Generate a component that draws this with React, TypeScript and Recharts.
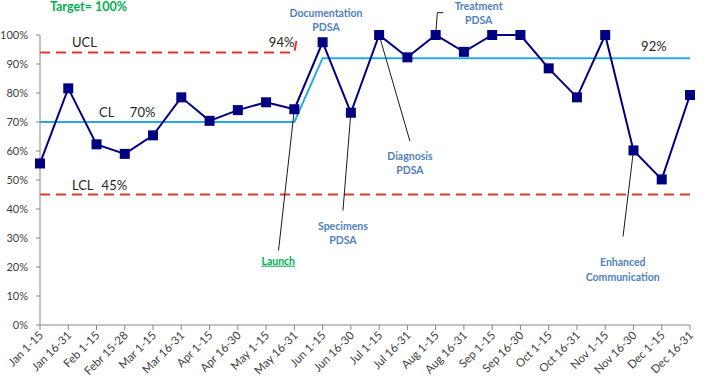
import React from "react";
import { LineChart, Line, XAxis, YAxis, ReferenceLine, ReferenceDot } from "recharts";

// Reporting periods (half-months)
const periods = [
  "Jan 1-15", "Jan 16-31", "Feb 1-15", "Febr 15-28", "Mar 1-15", "Mar 16-31",
  "Apr 1-15", "Apr 16-30", "May 1-15", "May 16-31", "Jun 1-15", "Jun 16-30",
  "Jul 1-15", "Jul 16-31", "Aug 1-15", "Aug 16-31", "Sep 1-15", "Sep 16-30",
  "Oct 1-15", "Oct 16-31", "Nov 1-15", "Nov 16-30", "Dec 1-15", "Dec 16-31",
];

// Compliance rate per period (%)
const compliance = [
  55.7, 81.6, 62.3, 59.0, 65.4, 78.5, 70.4, 74.1, 76.8, 74.4, 97.5, 73.2,
  100, 92.3, 100, 94.2, 100, 100, 88.5, 78.5, 100, 60.2, 50.2, 79.3,
];

// Control limits: baseline phase (first 10 periods), then post-launch phase
const baselineCL = 70;
const phase2CL = 92;
const baselineUCL = 94;
const phase2UCL = 150;
const lcl = 45;
const baselinePeriods = 10;

const yTicks = [0, 10, 20, 30, 40, 50, 60, 70, 80, 90, 100];

const data = periods.map((p, i) => ({
  idx: i,
  period: p,
  rate: compliance[i],
  cl: i < baselinePeriods ? baselineCL : phase2CL,
  ucl: i < baselinePeriods ? baselineUCL : i === baselinePeriods ? phase2UCL : null,
  lcl,
}));

const NAVY = "#000080";
const CL_BLUE = "#27A9E1";
const LIMIT_RED = "#E2392F";
const NOTE_BLUE = "#4F81BD";
const GREEN = "#00B050";
const AXIS_GRAY = "#868686";
const TEXT = "#262626";
const FONT = "Lato, 'Open Sans', sans-serif";

type Note = {
  x: number;
  y: number;
  lines: string[];
  color: string;
  size: number;
  weight: number;
  anchor: "start" | "middle" | "end";
  underline?: boolean;
};

// Text annotations placed in data coordinates (x = period index, y = %)
const notes: Note[] = [
  { x: 0.35, y: 108.2, lines: ["Target= 100%"], color: GREEN, size: 12.5, weight: 700, anchor: "start" },
  { x: 1.13, y: 95.9, lines: ["UCL"], color: TEXT, size: 13, weight: 400, anchor: "start" },
  { x: 9.0, y: 95.9, lines: [`${baselineUCL}%`], color: TEXT, size: 13, weight: 400, anchor: "end" },
  { x: 2.09, y: 71.7, lines: ["CL"], color: TEXT, size: 13, weight: 400, anchor: "start" },
  { x: 3.18, y: 71.7, lines: [`${baselineCL}%`], color: TEXT, size: 13, weight: 400, anchor: "start" },
  { x: 1.13, y: 46.7, lines: ["LCL"], color: TEXT, size: 13, weight: 400, anchor: "start" },
  { x: 2.18, y: 46.7, lines: [`${lcl}%`], color: TEXT, size: 13, weight: 400, anchor: "start" },
  { x: 21.27, y: 94.6, lines: [`${phase2CL}%`], color: TEXT, size: 13, weight: 400, anchor: "start" },
  { x: 10.12, y: 106.2, lines: ["Documentation", "PDSA"], color: NOTE_BLUE, size: 10.5, weight: 700, anchor: "middle" },
  { x: 15.52, y: 108.6, lines: ["Treatment", "PDSA"], color: NOTE_BLUE, size: 10.5, weight: 700, anchor: "middle" },
  { x: 13.09, y: 56.8, lines: ["Diagnosis", "PDSA"], color: NOTE_BLUE, size: 10.5, weight: 700, anchor: "middle" },
  { x: 10.72, y: 32.9, lines: ["Specimens", "PDSA"], color: NOTE_BLUE, size: 10.5, weight: 700, anchor: "middle" },
  { x: 8.43, y: 20.8, lines: ["Launch"], color: GREEN, size: 10.5, weight: 700, anchor: "middle", underline: true },
  { x: 20.62, y: 20.2, lines: ["Enhanced", "Communication"], color: NOTE_BLUE, size: 10.5, weight: 700, anchor: "middle" },
];

// Leader lines from intervention notes to the periods they refer to
const leaders: { from: { x: number; y: number }; to: { x: number; y: number } }[] = [
  { from: { x: 9, y: compliance[9] }, to: { x: 8.44, y: 25.7 } },
  { from: { x: 11, y: compliance[11] }, to: { x: 10.72, y: 39.5 } },
  { from: { x: 12, y: compliance[12] }, to: { x: 13.09, y: 63.4 } },
  { from: { x: 14, y: compliance[14] }, to: { x: 14.06, y: 107.7 } },
  { from: { x: 14.06, y: 107.7 }, to: { x: 14.27, y: 107.7 } },
  { from: { x: 21, y: compliance[21] }, to: { x: 20.63, y: 30.5 } },
];

const SquareDot = (props: any) => {
  const { cx, cy, index } = props;
  if (cx == null || cy == null) return <g key={index} />;
  return <rect key={index} x={cx - 5} y={cy - 5} width={10} height={10} fill={NAVY} />;
};

const PeriodTick = (props: any) => {
  const { x, y, payload } = props;
  const tx = x + 4;
  const ty = y + 4;
  return (
    <text
      x={tx}
      y={ty}
      transform={`rotate(-45 ${tx} ${ty})`}
      textAnchor="end"
      fontSize={11.5}
      fontFamily={FONT}
      fill="#404040"
    >
      {periods[payload.value]}
    </text>
  );
};

const noteShape = (note: Note) => (props: any) => {
  const { cx, cy } = props;
  const lineHeight = note.size * 1.35;
  return (
    <text
      x={cx}
      y={cy}
      textAnchor={note.anchor}
      fontSize={note.size}
      fontWeight={note.weight}
      fontFamily={FONT}
      fill={note.color}
      textDecoration={note.underline ? "underline" : undefined}
    >
      {note.lines.map((l, i) => (
        <tspan key={i} x={cx} dy={i === 0 ? 0 : lineHeight}>
          {l}
        </tspan>
      ))}
    </text>
  );
};

export default function App() {
  return (
    <div style={{ position: "fixed", left: 0, top: 0, width: 722, height: 390, background: "#fff" }}>
      <LineChart width={722} height={390} data={data} margin={{ top: 35, right: 32, bottom: 0, left: 0 }}>
        <XAxis
          dataKey="idx"
          type="number"
          domain={[0, periods.length - 1]}
          ticks={data.map((d) => d.idx)}
          interval={0}
          height={65}
          tick={<PeriodTick />}
          tickSize={5}
          axisLine={{ stroke: AXIS_GRAY }}
          tickLine={{ stroke: AXIS_GRAY }}
        />
        <YAxis
          domain={[0, 100]}
          ticks={yTicks}
          tickFormatter={(v: number) => `${v}%`}
          width={40}
          tickSize={4}
          tickMargin={8}
          interval={0}
          tick={{ fontSize: 11, fontFamily: FONT, fill: "#404040" }}
          axisLine={{ stroke: AXIS_GRAY }}
          tickLine={{ stroke: AXIS_GRAY }}
        />
        <YAxis yAxisId="lim" hide domain={[0, 100]} allowDataOverflow />

        <Line dataKey="cl" stroke={CL_BLUE} strokeWidth={2} dot={false} isAnimationActive={false} />
        <Line
          dataKey="ucl"
          yAxisId="lim"
          stroke={LIMIT_RED}
          strokeWidth={2}
          strokeDasharray="10 6"
          dot={false}
          isAnimationActive={false}
        />
        <Line
          dataKey="lcl"
          stroke={LIMIT_RED}
          strokeWidth={2}
          strokeDasharray="10 6"
          dot={false}
          isAnimationActive={false}
        />
        <Line dataKey="rate" stroke={NAVY} strokeWidth={2} dot={<SquareDot />} isAnimationActive={false} />

        {leaders.map((l, i) => (
          <ReferenceLine
            key={`leader-${i}`}
            segment={[l.from, l.to]}
            stroke="#1a1a1a"
            strokeWidth={1}
            ifOverflow="visible"
          />
        ))}
        {notes.map((n, i) => (
          <ReferenceDot
            key={`note-${i}`}
            x={n.x}
            y={n.y}
            r={0}
            ifOverflow="visible"
            shape={noteShape(n)}
          />
        ))}
      </LineChart>
    </div>
  );
}
